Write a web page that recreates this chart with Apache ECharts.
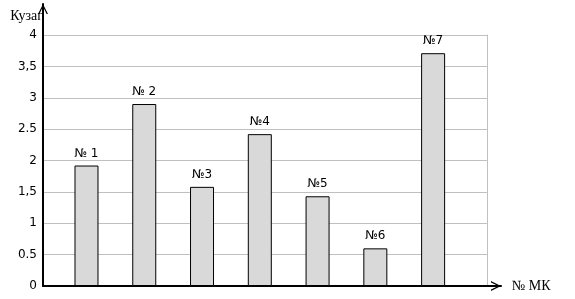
<!DOCTYPE html>
<html>
<head>
<meta charset="utf-8">
<script src="https://cdn.jsdelivr.net/npm/echarts@6/dist/echarts.min.js"></script>
<style>html,body{margin:0;padding:0;background:#fff}#c{width:575px;height:299px}</style>
</head>
<body>
<div id="c"></div>
<script>
var categories = ['№ 1', '№ 2', '№3', '№4', '№5', '№6', '№7'];
var values = [1.92, 2.9, 1.58, 2.42, 1.43, 0.6, 3.71];
var tickLabels = ['0', '0.5', '1', '1,5', '2', '2.5', '3', '3,5', '4'];
var yName = 'Кузаг';
var xName = '№ МК';

var chart = echarts.init(document.getElementById('c'), null, {renderer: 'canvas'});
var chevron = 'path://M0,10 L5,0 L10,10 L8.6,10 L5,2.8 L1.4,10 Z';
var sans = 'DejaVu Sans';
var serif = 'Liberation Serif';
chart.setOption({
  animation: false,
  backgroundColor: '#fff',
  grid: [
    {left: 43, right: 88, top: 35, bottom: 13},
    {left: 57.6, right: 113, top: 35, bottom: 13},
    {left: 43, right: 74, top: 4, bottom: 13}
  ],
  xAxis: [
    {gridIndex: 0, type: 'value', min: 0, max: 1, show: false},
    {gridIndex: 1, type: 'category', data: categories, show: false},
    {gridIndex: 2, type: 'value', min: 0, max: 1,
      axisLine: {show: true, symbol: ['none', chevron], symbolSize: [10, 13], symbolOffset: [0, -5],
        lineStyle: {color: '#000', width: 2}},
      axisTick: {show: false}, axisLabel: {show: false}, splitLine: {show: false},
      name: xName, nameLocation: 'end', nameGap: 11,
      nameTextStyle: {fontFamily: serif, fontSize: 14, color: '#000', verticalAlign: 'middle'}}
  ],
  yAxis: [
    {gridIndex: 0, type: 'value', min: 0, max: 4, interval: 0.5,
      axisLine: {show: false}, axisTick: {show: false},
      axisLabel: {fontFamily: sans, fontSize: 12, color: '#000', margin: 6,
        formatter: function (v) { return tickLabels[Math.round(v * 2)]; }},
      splitLine: {show: true, lineStyle: {color: '#c0c0c0', width: 1}}},
    {gridIndex: 0, type: 'value', min: 0, max: 4, interval: 0.5, position: 'right',
      axisLine: {show: true, lineStyle: {color: '#c0c0c0', width: 1}},
      axisTick: {show: false}, axisLabel: {show: false}, splitLine: {show: false}},
    {gridIndex: 1, type: 'value', min: 0, max: 4, show: false},
    {gridIndex: 2, type: 'value', min: 0, max: 1,
      axisLine: {show: true, symbol: ['none', chevron], symbolSize: [10, 13], symbolOffset: [0, -5],
        lineStyle: {color: '#000', width: 2}},
      axisTick: {show: false}, axisLabel: {show: false}, splitLine: {show: false},
      name: yName, nameLocation: 'end', nameGap: -5,
      nameTextStyle: {fontFamily: serif, fontSize: 14, color: '#000', align: 'right', verticalAlign: 'top'}}
  ],
  series: [{
    type: 'bar',
    xAxisIndex: 1, yAxisIndex: 2,
    data: values,
    barWidth: 24,
    itemStyle: {color: '#d9d9d9', borderColor: '#000', borderWidth: 1},
    label: {show: true, position: 'top', distance: 6, formatter: '{b}',
      fontFamily: sans, fontSize: 12, color: '#000'}
  }]
});
</script>
</body>
</html>
